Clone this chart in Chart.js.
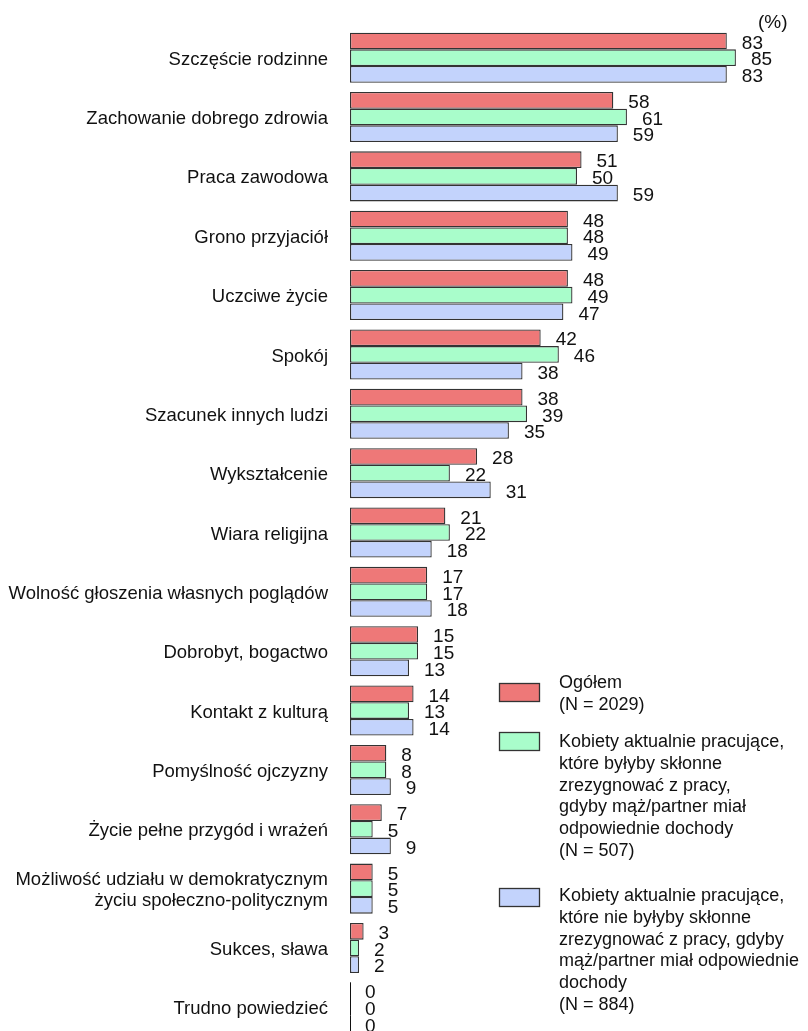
<!DOCTYPE html>
<html lang="pl">
<head>
<meta charset="utf-8">
<title>Wartości życiowe</title>
<script src="https://cdn.jsdelivr.net/npm/chart.js@4/dist/chart.umd.min.js"></script>
<style>
  html, body { margin: 0; padding: 0; background: #ffffff; overflow: hidden; }
  canvas { display: block; }
</style>
</head>
<body>
<canvas id="chart" width="808" height="1037" style="width:808px;height:1037px"></canvas>
<script>
// Categories (top to bottom)
const categories = [
  'Szczęście rodzinne',
  'Zachowanie dobrego zdrowia',
  'Praca zawodowa',
  'Grono przyjaciół',
  'Uczciwe życie',
  'Spokój',
  'Szacunek innych ludzi',
  'Wykształcenie',
  'Wiara religijna',
  'Wolność głoszenia własnych poglądów',
  'Dobrobyt, bogactwo',
  'Kontakt z kulturą',
  'Pomyślność ojczyzny',
  'Życie pełne przygód i wrażeń',
  ['Możliwość udziału w demokratycznym', 'życiu społeczno-politycznym'],
  'Sukces, sława',
  'Trudno powiedzieć'
];

// Series values (%)
const ogolem      = [83, 58, 51, 48, 48, 42, 38, 28, 21, 17, 15, 14, 8, 7, 5, 3, 0];
const sklonne     = [85, 61, 50, 48, 49, 46, 39, 22, 22, 17, 15, 13, 8, 5, 5, 2, 0];
const nieSklonne  = [83, 59, 59, 49, 47, 38, 35, 31, 18, 18, 13, 14, 9, 9, 5, 2, 0];

// Legend texts, one array of lines per series
const legendOgolem = ['Ogółem', '(N = 2029)'];
const legendSklonne = [
  'Kobiety aktualnie pracujące,',
  'które byłyby skłonne',
  'zrezygnować z pracy,',
  'gdyby mąż/partner miał',
  'odpowiednie dochody',
  '(N = 507)'
];
const legendNieSklonne = [
  'Kobiety aktualnie pracujące,',
  'które nie byłyby skłonne',
  'zrezygnować z pracy, gdyby',
  'mąż/partner miał odpowiednie',
  'dochody',
  '(N = 884)'
];
const unitLabel = '(%)';

const FONT = '"Liberation Sans", Arial, Helvetica, sans-serif';
const BORDER = '#333333';

// Value labels placed just right of each bar end, plus a hairline for zero-length bars
const valueLabels = {
  id: 'valueLabels',
  afterDatasetsDraw(chart) {
    const ctx = chart.ctx;
    ctx.save();
    ctx.font = '19px ' + FONT;
    ctx.fillStyle = '#111111';
    ctx.textAlign = 'left';
    ctx.textBaseline = 'middle';
    chart.data.datasets.forEach((ds, di) => {
      const meta = chart.getDatasetMeta(di);
      meta.data.forEach((el, i) => {
        const v = ds.data[i];
        if (v === 0) {
          ctx.save();
          ctx.strokeStyle = '#111111';
          ctx.lineWidth = 1;
          ctx.beginPath();
          ctx.moveTo(Math.round(el.x) + 0.5, el.y - el.height / 2);
          ctx.lineTo(Math.round(el.x) + 0.5, el.y + el.height / 2);
          ctx.stroke();
          ctx.restore();
        }
        ctx.fillText(String(v), el.x + 15, el.y + 2.5);
      });
    });
    ctx.restore();
  }
};

// Legend drawn as boxes with multi-line descriptions in the lower right
const sideLegend = {
  id: 'sideLegend',
  afterDraw(chart) {
    const ctx = chart.ctx;
    const items = [
      { ds: 0, lines: legendOgolem, boxTop: 683, baseline: 688 },
      { ds: 1, lines: legendSklonne, boxTop: 732, baseline: 747 },
      { ds: 2, lines: legendNieSklonne, boxTop: 888, baseline: 901 }
    ];
    ctx.save();
    items.forEach(it => {
      const ds = chart.data.datasets[it.ds];
      ctx.fillStyle = ds.backgroundColor;
      ctx.fillRect(499, it.boxTop, 41, 19);
      ctx.strokeStyle = BORDER;
      ctx.lineWidth = 1.3;
      ctx.strokeRect(499.5, it.boxTop + 0.5, 40, 18);
      ctx.fillStyle = '#111111';
      ctx.font = '18px ' + FONT;
      ctx.textAlign = 'left';
      ctx.textBaseline = 'alphabetic';
      it.lines.forEach((ln, k) => {
        ctx.fillText(ln, 559, it.baseline + k * 21.8);
      });
    });
    // unit marker above the value column
    ctx.font = '19px ' + FONT;
    ctx.fillStyle = '#111111';
    ctx.textBaseline = 'middle';
    ctx.fillText(unitLabel, 758, 23);
    ctx.restore();
  }
};

const common = { borderColor: BORDER, borderWidth: 1.3, borderSkipped: false };

const chart = new Chart(document.getElementById('chart'), {
  type: 'bar',
  data: {
    labels: categories,
    datasets: [
      Object.assign({ label: 'Ogółem', data: ogolem, backgroundColor: '#EE7878' }, common),
      Object.assign({ label: 'Skłonne zrezygnować', data: sklonne, backgroundColor: '#A9FDCB' }, common),
      Object.assign({ label: 'Nieskłonne zrezygnować', data: nieSklonne, backgroundColor: '#C3D3FC' }, common)
    ]
  },
  options: {
    indexAxis: 'y',
    responsive: false,
    animation: false,
    layout: { padding: { top: 28, right: 4, bottom: 0, left: 0 } },
    datasets: { bar: { categoryPercentage: 0.843, barPercentage: 1.0 } },
    plugins: {
      legend: { display: false },
      tooltip: { enabled: false },
      title: { display: false }
    },
    scales: {
      x: {
        display: false,
        min: 0,
        max: 100
      },
      y: {
        position: 'left',
        grid: { display: false, drawTicks: false },
        border: { display: false },
        afterFit(scale) {
          scale.width = 350;
          // categories fill the full height; no extra room for end labels
          scale.paddingTop = 0;
          scale.paddingBottom = 0;
        },
        ticks: {
          padding: 22,
          labelOffset: 2,
          color: '#111111',
          font: { family: FONT, size: 18.5, lineHeight: 1.15 },
          autoSkip: false
        }
      }
    }
  },
  plugins: [valueLabels, sideLegend]
});
</script>
</body>
</html>
